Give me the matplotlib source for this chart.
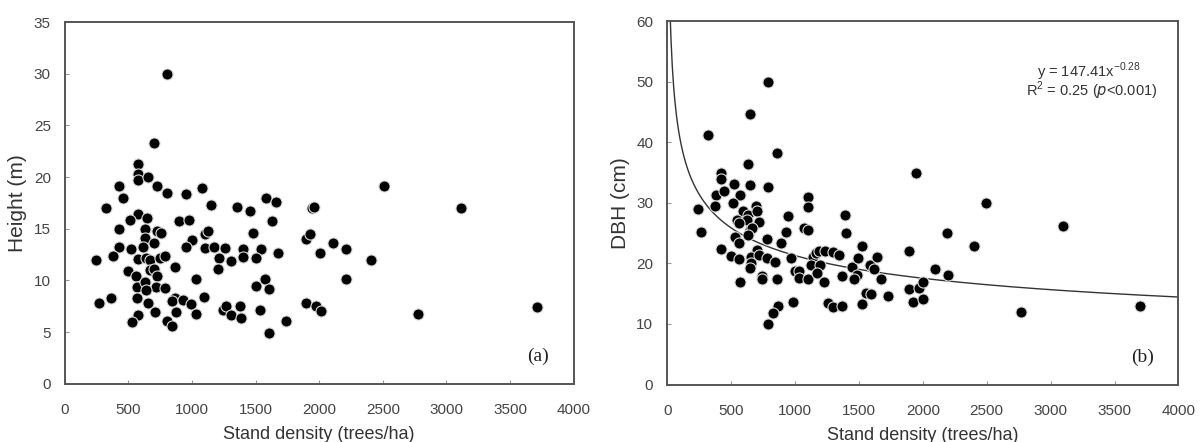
import numpy as np
import matplotlib.pyplot as plt

# panel (a): stand density vs height
dens_a = [800, 702, 576, 576, 576, 655, 427, 726, 800, 454, 1075, 949, 320, 1153, 1355,
          1454, 1580, 1659, 1947, 1963, 576, 511, 650, 899, 977, 427, 629, 726, 755, 1101,
          1127, 1480, 1630, 629, 702, 1001, 427, 524, 611, 949, 1101, 1174, 1258, 1402, 1541,
          1677, 1900, 1926, 2010, 2109, 2207, 2207, 244, 375, 572, 637, 668, 747, 786, 865,
          1211, 1303, 1402, 1502, 1205, 498, 668, 702, 558, 721, 1030, 564, 629, 715, 786,
          642, 1502, 1572, 1606, 270, 367, 568, 655, 865, 839, 930, 996, 1095, 1030, 873,
          713, 576, 532, 800, 839, 1240, 1271, 1303, 1376, 1384, 1533, 1606, 1737, 1900, 1973,
          2013, 2510, 3113, 2406, 2773, 3716]
height = [30.0, 23.3, 21.3, 20.3, 19.7, 20.0, 19.1, 19.1, 18.5, 18.0, 18.9, 18.4, 17.0, 17.3, 17.1,
          16.7, 18.0, 17.6, 17.0, 17.1, 16.4, 15.8, 16.0, 15.7, 15.8, 15.0, 15.0, 14.8, 14.6, 14.5,
          14.8, 14.6, 15.7, 14.1, 13.6, 13.9, 13.2, 13.0, 13.2, 13.2, 13.1, 13.2, 13.1, 13.0, 13.0,
          12.6, 14.0, 14.5, 12.6, 13.6, 13.0, 10.1, 12.0, 12.4, 12.1, 12.2, 12.0, 12.2, 12.4, 11.3,
          12.2, 11.9, 12.3, 12.2, 11.1, 10.9, 11.0, 11.1, 10.4, 10.4, 10.1, 9.4, 9.8, 9.4, 9.3,
          9.1, 9.5, 10.1, 9.2, 7.8, 8.3, 8.3, 7.8, 8.3, 8.0, 8.1, 7.7, 8.4, 6.7, 6.9,
          6.9, 6.6, 6.0, 6.1, 5.6, 7.1, 7.5, 6.6, 7.5, 6.4, 7.1, 4.9, 6.1, 7.8, 7.5,
          7.0, 19.1, 17.0, 12.0, 6.7, 7.4]

# panel (b): stand density vs DBH
dens_b = [792, 644, 318, 858, 631, 422, 422, 524, 644, 792, 381, 448, 571, 511, 375,
          240, 1100, 1100, 696, 597, 636, 701, 550, 628, 722, 944, 1392, 263, 565, 644,
          662, 930, 1071, 1100, 1397, 532, 631, 780, 565, 891, 422, 701, 498, 563, 654,
          722, 780, 844, 654, 644, 970, 1001, 1034, 1034, 1100, 1139, 1165, 1126, 1196, 1191,
          1235, 1296, 1347, 1170, 1228, 1366, 745, 745, 858, 571, 1444, 1488, 1464, 1496, 1527,
          1587, 1621, 1644, 1671, 1554, 1593, 1730, 1895, 1944, 1895, 1973, 1999, 1921, 1999, 2095,
          2195, 2192, 983, 1261, 1296, 1371, 1527, 870, 831, 792, 2494, 3094, 2400, 2765, 3698]
dbh = [50.0, 44.6, 41.2, 38.3, 36.4, 35.0, 34.0, 33.2, 32.9, 32.7, 31.3, 32.0, 31.3, 29.9, 29.5,
       29.0, 31.0, 29.4, 29.5, 28.7, 28.0, 28.7, 27.2, 27.2, 26.9, 27.8, 28.0, 25.2, 26.6, 25.5,
       25.8, 25.2, 25.8, 25.6, 25.1, 24.3, 24.7, 24.0, 23.3, 23.3, 22.4, 22.2, 21.2, 20.8, 21.1,
       21.4, 20.9, 20.3, 20.0, 19.2, 20.9, 18.8, 18.8, 17.6, 17.5, 21.0, 21.7, 19.7, 19.7, 22.1,
       22.1, 21.9, 21.4, 18.5, 17.0, 18.0, 17.9, 17.4, 17.4, 17.0, 19.4, 18.1, 17.5, 20.9, 22.8,
       19.7, 19.0, 21.0, 17.4, 15.1, 14.9, 14.6, 22.1, 35.0, 15.7, 15.9, 17.0, 13.7, 14.2, 19.1,
       18.1, 25.1, 13.7, 13.4, 12.8, 13.0, 13.3, 13.0, 11.8, 10.0, 29.9, 26.1, 22.9, 11.9, 13.0]

# power fit shown on panel (b)
fit_a, fit_b = 147.41, -0.28

plt.rcParams['font.family'] = ['Liberation Sans', 'DejaVu Sans']

fig = plt.figure(figsize=(12, 4.42), dpi=100)
ax1 = fig.add_axes([0.054, 0.132, 0.424, 0.818])
ax2 = fig.add_axes([0.556, 0.130, 0.426, 0.822])

grey = '#555555'


def style(ax, ymax, ystep, ylabel, tag, ylab_x):
    ax.set_xlim(0, 4000)
    ax.set_ylim(0, ymax)
    ax.set_xticks(np.arange(0, 4001, 500))
    ax.set_yticks(np.arange(0, ymax + 1, ystep))
    ax.tick_params(direction='in', length=3, width=0.8, color='#999999',
                   labelsize=11, labelcolor='#444444')
    ax.tick_params(axis='y', pad=10)
    ax.tick_params(axis='x', pad=14)
    for s in ax.spines.values():
        s.set_color(grey)
        s.set_linewidth(1.4)
    ax.set_ylabel(ylabel, fontsize=15, color='#333333')
    ax.yaxis.set_label_coords(ylab_x, 0.5)
    ax.set_xlabel('Stand density (trees/ha)', fontsize=13, color='#333333')
    ax.xaxis.set_label_coords(0.5, -0.118)
    ax.text(0.93, 0.075, tag, transform=ax.transAxes, ha='center', va='center',
            fontsize=14, family=['Liberation Serif', 'DejaVu Serif'], color='#222222')


ax1.scatter(dens_a, height, s=64, c='black', edgecolors='#dddddd', linewidths=0.8, zorder=3)
style(ax1, 35, 5, 'Height (m)', '(a)', -0.075)

xs = np.linspace(20, 4000, 800)
ax2.plot(xs, fit_a * xs ** fit_b, color='#333333', lw=1.0, zorder=2)
ax2.scatter(dens_b, dbh, s=64, c='black', edgecolors='#dddddd', linewidths=0.8, zorder=3)
style(ax2, 60, 10, 'DBH (cm)', '(b)', -0.073)
ax2.text(0.824, 0.862, 'y = 147.41x$^{\\mathregular{-0.28}}$', transform=ax2.transAxes,
         ha='center', va='center', fontsize=10.5, color='#333333')
ax2.text(0.959, 0.807, r'R$^{\mathregular{2}}$ = 0.25 ($p$<0.001)', transform=ax2.transAxes,
         ha='right', va='center', fontsize=10.5, color='#333333')

fig.savefig('out.png', dpi=100)
